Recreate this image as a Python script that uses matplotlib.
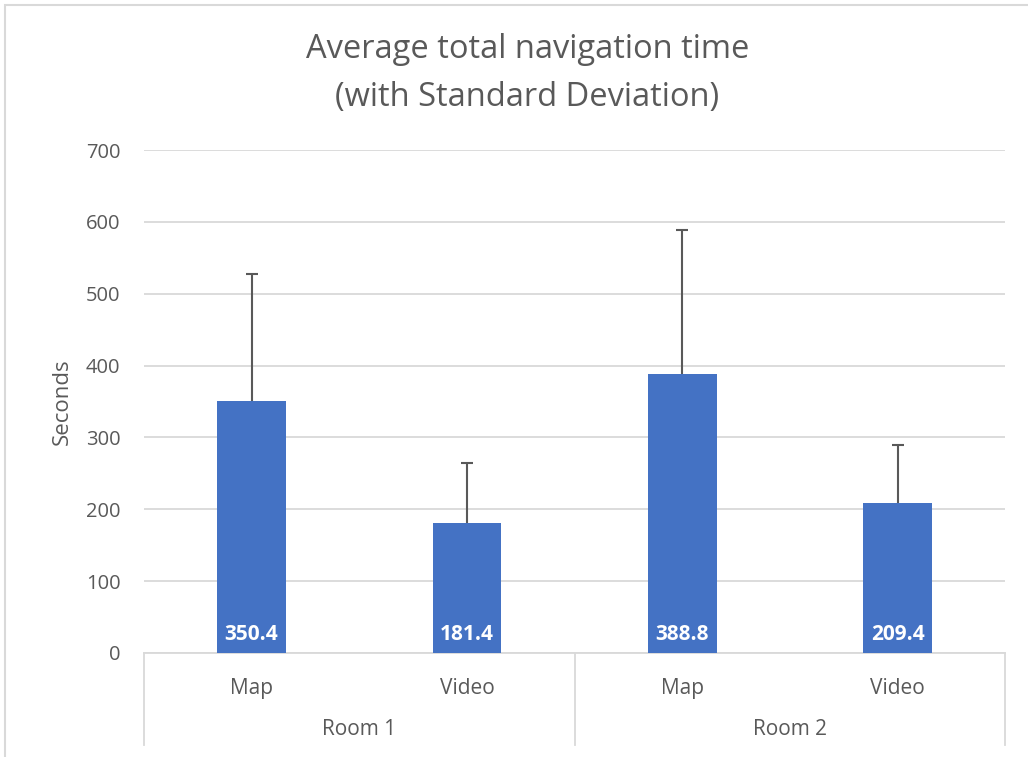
import matplotlib.pyplot as plt
from matplotlib.patches import Rectangle

# data
conditions = ["Map", "Video", "Map", "Video"]
rooms = ["Room 1", "Room 2"]
mean_time = [350.4, 181.4, 388.8, 209.4]
std_time = [177.0, 83.0, 199.5, 80.5]

plt.rcParams["font.family"] = ["Open Sans", "DejaVu Sans"]
text_col = "#595959"
grid_col = "#d9d9d9"
bar_col = "#4472C4"

fig = plt.figure(figsize=(10.28, 7.57), dpi=100)
ax = fig.add_axes([0.140, 0.1374, 0.838, 0.6644])

x = list(range(len(mean_time)))
ax.bar(x, mean_time, width=0.32, color=bar_col, zorder=3)

# upper-only error bars with a cap at the top
tops = [m + s for m, s in zip(mean_time, std_time)]
ax.vlines(x, mean_time, tops, color=text_col, linewidth=1.5, zorder=4)
ax.hlines(tops, [xi - 0.028 for xi in x], [xi + 0.028 for xi in x],
          color=text_col, linewidth=1.5, zorder=4)

# value labels at the base of each bar
for xi, v in zip(x, mean_time):
    ax.text(xi, 26, f"{v:.1f}", ha="center", va="center", color="white",
            fontsize=15, fontweight="bold", zorder=5)

ax.set_xlim(-0.5, len(x) - 0.5)
ax.set_ylim(0, 700)
ax.set_yticks(range(0, 701, 100))
ax.yaxis.grid(True, color=grid_col, linewidth=1.3, zorder=0)
ax.set_axisbelow(True)
for s in ["top", "right", "left"]:
    ax.spines[s].set_visible(False)
ax.spines["bottom"].set_color(grid_col)
ax.spines["bottom"].set_linewidth(1.3)
ax.tick_params(axis="y", length=0, labelsize=14.5, labelcolor=text_col, pad=17)
ax.set_xticks(x)
ax.set_xticklabels(conditions)
ax.tick_params(axis="x", length=0, labelsize=15, labelcolor=text_col, pad=18)
ax.set_ylabel("Seconds", fontsize=16, color=text_col, labelpad=9)

# group axis: separators and room labels
trans = ax.get_xaxis_transform()
for sx in [-0.5, 1.5, 3.5]:
    ax.plot([sx, sx], [0, -0.183], transform=trans, color=grid_col,
            linewidth=1.3, clip_on=False)
for i, room in enumerate(rooms):
    ax.text(2 * i + 0.5, -0.153, room, transform=trans, ha="center",
            va="center", fontsize=15, color=text_col)

fig.text(0.513, 0.935, "Average total navigation time", ha="center",
         va="center", fontsize=23.5, color=text_col)
fig.text(0.513, 0.871, "(with Standard Deviation)", ha="center",
         va="center", fontsize=23.5, color=text_col)

# chart border
fig.patches.append(Rectangle((0.005, -0.05), 1.2, 1.043, transform=fig.transFigure,
                             fill=False, edgecolor=grid_col, linewidth=1.5))

fig.savefig("out.png", dpi=100)
